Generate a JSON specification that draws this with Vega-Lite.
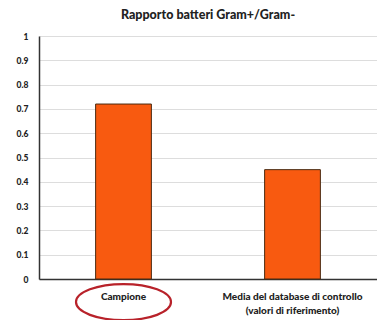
{
  "$schema": "https://vega.github.io/schema/vega-lite/v6.json",
  "width": 338,
  "height": 243,
  "autosize": {"type": "none"},
  "padding": {"left": 39, "top": 36, "right": 0, "bottom": 41},
  "background": "white",
  "title": {
    "text": "Rapporto batteri Gram+/Gram-",
    "font": "Lato",
    "fontSize": 12.5,
    "fontWeight": 900,
    "color": "#222222",
    "anchor": "middle",
    "offset": 11
  },
  "config": {
    "view": {"stroke": null},
    "axis": {"labelFont": "Lato", "labelFontWeight": 900, "labelColor": "#222222"}
  },
  "encoding": {
    "x": {
      "field": "categoria", "type": "nominal", "sort": null,
      "scale": {"paddingInner": 0, "paddingOuter": 0},
      "axis": {
        "title": null, "labelAngle": 0, "ticks": false, "labelPadding": 12,
        "labelFontSize": 10, "labelLineHeight": 14,
        "labelExpr": "split(datum.label, '|')",
        "domainColor": "#333333", "domainWidth": 1.5
      }
    },
    "y": {
      "field": "valore", "type": "quantitative",
      "scale": {"domain": [0, 1]},
      "axis": {
        "title": null, "values": [0, 0.1, 0.2, 0.3, 0.4, 0.5, 0.6, 0.7, 0.8, 0.9, 1],
        "format": "~g",
        "labelFontSize": 8.5, "ticks": false, "labelPadding": 11,
        "gridColor": "#dddddd", "domainColor": "#333333", "domainWidth": 1.5
      }
    }
  },
  "layer": [
    {
      "data": {"values": [
        {"categoria": "Campione", "valore": 0.72},
        {"categoria": "Media del database di controllo|(valori di riferimento)", "valore": 0.45}
      ]},
      "mark": {"type": "bar", "fill": "#f85a10", "stroke": "#4a2a10", "strokeWidth": 1, "width": {"band": 0.33}}
    },
    {
      "data": {"values": [{"categoria": "Campione", "valore": -0.095}]},
      "mark": {
        "type": "point", "filled": false, "clip": false,
        "shape": "M-1,0A1,0.38,0,1,0,1,0A1,0.38,0,1,0,-1,0Z",
        "size": 9025, "stroke": "#b8222a", "strokeWidth": 2.2, "opacity": 1
      }
    }
  ]
}
